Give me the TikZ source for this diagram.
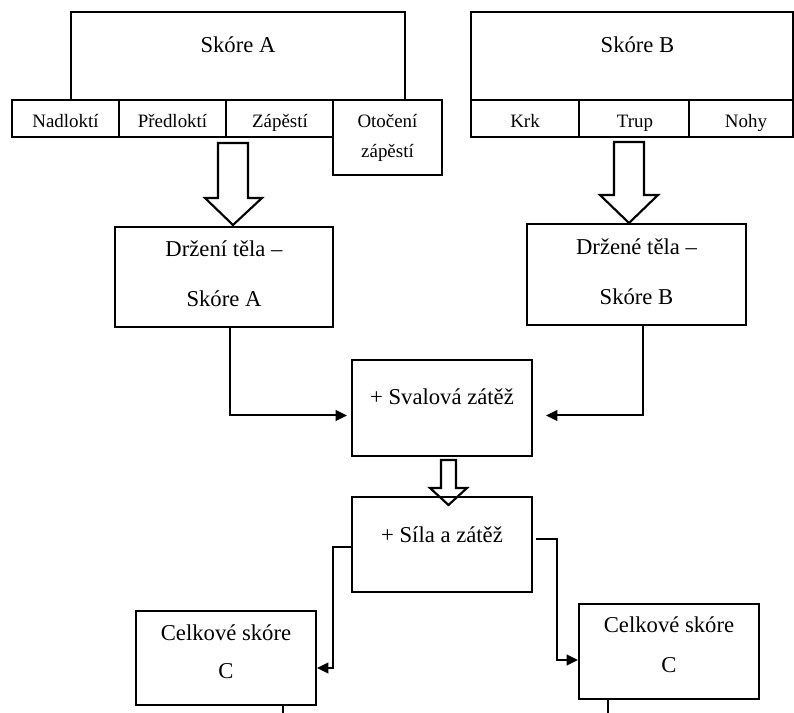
\documentclass[tikz,border=0pt]{standalone}
\usepackage{fontspec}
\setmainfont{Liberation Serif}
\usetikzlibrary{arrows.meta,calc}
\begin{document}
\begin{tikzpicture}[x=0.75pt,y=-0.75pt,
  box/.style={draw=black,line width=1.5pt,inner sep=0pt,fill=white},
  big/.style={font=\fontsize{17}{20}\selectfont,anchor=base,inner sep=0pt},
  small/.style={font=\fontsize{14.2}{17}\selectfont,anchor=base,inner sep=0pt},
  conn/.style={draw=black,line width=1.5pt,-{Triangle[length=8.5pt,width=8pt]}},
  plain/.style={draw=black,line width=1.5pt},
  hollow/.style={draw=black,line width=1.6pt,fill=white,line join=miter}]
\useasboundingbox (0,0) rectangle (794,713);
% top-left group
\node[box,minimum width=250.5pt,minimum height=66pt] (skA) at (238,56) {};
\node[box,minimum width=80.25pt,minimum height=27.75pt] (nad) at (65.5,118.5) {};
\node[box,minimum width=80.25pt,minimum height=27.75pt] (pred) at (172.5,118.5) {};
\node[box,minimum width=80.25pt,minimum height=27.75pt] (zap) at (279.5,118.5) {};
\node[box,minimum width=81.75pt,minimum height=56.25pt] (oto) at (387.5,137.5) {};
\node[big] (tskA) at (238,53) {Skóre A};
\node[small] (tnad) at (65.5,128) {Nadloktí};
\node[small] (tpred) at (172.5,128) {Předloktí};
\node[small] (tzap) at (280,128) {Zápěstí};
\node[small] (toto1) at (387.5,128) {Otočení};
\node[small] (toto2) at (387.5,158) {zápěstí};
% top-right group
\node[box,minimum width=241.5pt,minimum height=66pt] (skB) at (632,56) {};
\node[box,minimum width=81pt,minimum height=27.75pt] (krk) at (525,118.5) {};
\node[box,minimum width=82.5pt,minimum height=27.75pt] (trup) at (634,118.5) {};
\node[box,minimum width=78pt,minimum height=27.75pt] (nohy) at (741,118.5) {};
\node[big] (tskB) at (637.5,53) {Skóre B};
\node[small] (tkrk) at (525,128) {Krk};
\node[small] (ttrup) at (635,128) {Trup};
\node[small] (tnohy) at (746,128) {Nohy};
% hollow arrows
\draw[hollow] (218,143) -- (248,143) -- (248,198) -- (262,198) -- (233,225) -- (205,198) -- (218,198) -- cycle;
\draw[hollow] (614,142) -- (644,142) -- (644,195) -- (658,195) -- (629,223) -- (600,195) -- (614,195) -- cycle;
% middle boxes
\node[box,minimum width=163.5pt,minimum height=75pt] (dA) at (224,277) {};
\node[big] (tdA1) at (224,257) {Držení těla –};
\node[big] (tdA2) at (224,307) {Skóre A};
\node[box,minimum width=164.25pt,minimum height=75.75pt] (dB) at (636.5,274.5) {};
\node[big] (tdB1) at (636.5,255) {Držené těla –};
\node[big] (tdB2) at (636.5,305) {Skóre B};
\node[box,minimum width=135pt,minimum height=72pt] (sv) at (442,408) {};
\node[big] (tsv) at (442,405) {+ Svalová zátěž};
\draw[hollow] (441,460) -- (456,460) -- (456,488) -- (467,488) -- (448.5,505) -- (430,488) -- (441,488) -- cycle;
\node[box,minimum width=135pt,minimum height=71.25pt,fill=none] (sila) at (442,544.5) {};
\node[big] (tsila) at (442,542) {+ Síla a zátěž};
% bottom boxes
\node[box,minimum width=135pt,minimum height=70.5pt] (cL) at (226,658) {};
\node[big] (tcL1) at (226,640) {Celkové skóre};
\node[big] (tcL2) at (226,678) {C};
\node[box,minimum width=135pt,minimum height=71.25pt] (cR) at (669,651.5) {};
\node[big] (tcR1) at (669,633) {Celkové skóre};
\node[big] (tcR2) at (669,672) {C};
% connectors
\draw[conn,shorten >=3pt] ([xshift=4.5pt]dA.south) |- ([yshift=-5.6pt]sv.west);
\draw[conn,shorten >=9.75pt] ([xshift=4.9pt]dB.south) |- ([yshift=-5.6pt]sv.east);
\draw[conn] ([yshift=-1.9pt]sila.west) -- ++(-18,0) |- ([yshift=-7.5pt]cL.east);
\draw[conn] ([xshift=2.25pt,yshift=4.1pt]sila.east) -- ++(21,0) |- ([yshift=-6.4pt]cR.west);
\coordinate (endL) at (283,713);
\coordinate (endR) at (608,713);
\draw[plain] ([xshift=42.75pt]cL.south) -- (endL);
\draw[plain] ([xshift=-45.75pt]cR.south) -- (endR);
\end{tikzpicture}
\end{document}
